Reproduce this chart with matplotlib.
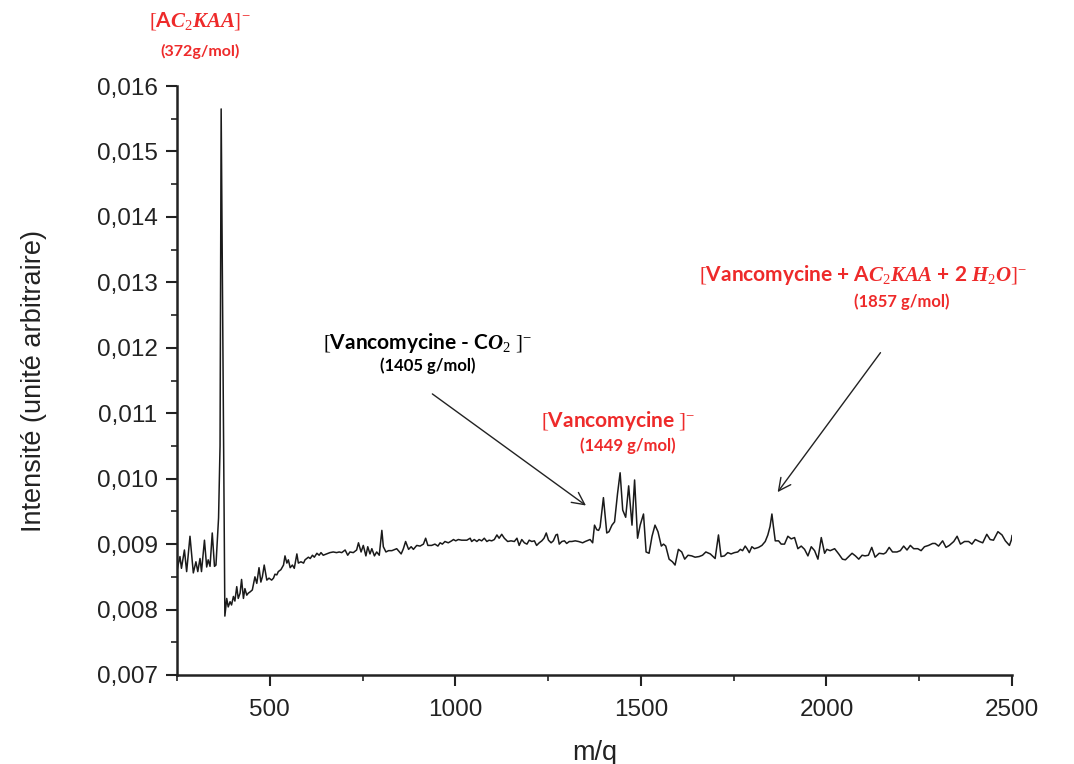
import matplotlib
matplotlib.use("Agg")
import matplotlib.pyplot as plt
from matplotlib.ticker import MultipleLocator, FuncFormatter

plt.rcParams['mathtext.fontset'] = 'custom'
plt.rcParams['mathtext.rm'] = 'Liberation Serif'
plt.rcParams['mathtext.it'] = 'Liberation Serif:italic:bold'
plt.rcParams['mathtext.bf'] = 'Liberation Serif:bold'

mz = [250, 258, 262, 270, 276, 285, 294, 301, 306, 312, 316, 324, 330, 334, 339, 345, 351, 355,
      362, 366, 369, 379,
      384, 388, 393, 397, 402, 406, 411, 415, 420, 424, 429, 433, 438, 442, 447, 453, 460, 465,
      471, 476, 480, 485, 492, 498, 505, 510, 514, 519, 523, 530, 537, 541, 546, 550, 555, 561,
      566, 573, 577, 584, 591, 595, 604, 609, 615, 620, 627, 633, 638, 644, 653, 662, 671, 680,
      687, 694, 703, 710, 716, 725, 734, 739, 746, 752, 759, 764, 770, 775, 782, 788, 795, 802,
      806, 813, 820, 829, 842, 854, 860, 866, 874, 881, 887, 896, 905, 914, 920, 926, 936, 945,
      953, 959, 965, 972, 981, 990, 995, 1001, 1008, 1017, 1031, 1040, 1044, 1051, 1058, 1064,
      1071, 1078, 1085, 1091, 1098, 1105, 1112, 1118, 1125, 1132, 1141, 1150, 1159, 1166, 1172,
      1179, 1186, 1193, 1199, 1206, 1213, 1219, 1226, 1233, 1239, 1245, 1251, 1258, 1264, 1271,
      1275, 1280, 1287, 1294, 1300, 1307, 1314, 1323, 1332, 1343, 1350, 1359, 1363, 1370, 1375,
      1381, 1386, 1390, 1399, 1408, 1414, 1422, 1429, 1437, 1444, 1451, 1459, 1467, 1476, 1483,
      1491, 1498, 1507, 1514, 1522, 1530, 1538, 1546, 1555, 1561, 1567, 1576, 1585, 1592, 1601,
      1610, 1618, 1627, 1637, 1646, 1657, 1666, 1675, 1687, 1700, 1709, 1716, 1725, 1734, 1743,
      1752, 1761, 1768, 1774, 1781, 1786, 1792, 1799, 1806, 1817, 1826, 1835, 1842, 1848, 1853,
      1857, 1862, 1871, 1878, 1887, 1896, 1905, 1914, 1923, 1932, 1941, 1950, 1959, 1968, 1977,
      1986, 1995, 2001, 2010, 2022, 2033, 2043, 2051, 2060, 2069, 2078, 2087, 2096, 2104, 2113,
      2122, 2131, 2142, 2154, 2160, 2169, 2178, 2190, 2199, 2208, 2217, 2226, 2235, 2246, 2255,
      2264, 2275, 2286, 2293, 2302, 2313, 2322, 2331, 2343, 2352, 2361, 2372, 2383, 2392, 2401,
      2412, 2421, 2432, 2441, 2450, 2462, 2473, 2482, 2493, 2498, 2500]

intensity = [0.00860, 0.00881, 0.00863, 0.00891, 0.00858, 0.00912, 0.00856, 0.00873, 0.00858,
             0.00878, 0.00858, 0.00906, 0.00865, 0.00876, 0.00866, 0.00917, 0.00866, 0.00868,
             0.00940, 0.01050, 0.01565, 0.00790,
             0.00817, 0.00804, 0.00812, 0.00807, 0.00820, 0.00813, 0.00835, 0.00817, 0.00825,
             0.00846, 0.00817, 0.00832, 0.00822, 0.00825, 0.00827, 0.00830, 0.00850, 0.00840,
             0.00864, 0.00842, 0.00850, 0.00868, 0.00845, 0.00848, 0.00845, 0.00848, 0.00854,
             0.00853, 0.00858, 0.00861, 0.00868, 0.00882, 0.00871, 0.00876, 0.00864, 0.00868,
             0.00863, 0.00885, 0.00871, 0.00873, 0.00871, 0.00876, 0.00880, 0.00878, 0.00883,
             0.00880, 0.00886, 0.00883, 0.00887, 0.00883, 0.00885, 0.00887, 0.00888, 0.00887,
             0.00888, 0.00887, 0.00891, 0.00883, 0.00888, 0.00887, 0.00891, 0.00902, 0.00888,
             0.00898, 0.00882, 0.00896, 0.00885, 0.00893, 0.00882, 0.00888, 0.00883, 0.00921,
             0.00896, 0.00888, 0.00890, 0.00890, 0.00893, 0.00885, 0.00893, 0.00904, 0.00892,
             0.00896, 0.00892, 0.00898, 0.00897, 0.00900, 0.00909, 0.00898, 0.00898, 0.00900,
             0.00897, 0.00902, 0.00900, 0.00904, 0.00902, 0.00905, 0.00907, 0.00905, 0.00907,
             0.00906, 0.00906, 0.00909, 0.00904, 0.00907, 0.00904, 0.00907, 0.00905, 0.00909,
             0.00904, 0.00906, 0.00905, 0.00907, 0.00914, 0.00909, 0.00915, 0.00909, 0.00904,
             0.00905, 0.00904, 0.00909, 0.00898, 0.00907, 0.00902, 0.00900, 0.00906, 0.00904,
             0.00905, 0.00898, 0.00902, 0.00905, 0.00909, 0.00917, 0.00906, 0.00902, 0.00905,
             0.00914, 0.00915, 0.00900, 0.00904, 0.00905, 0.00901, 0.00904, 0.00904, 0.00905,
             0.00904, 0.00902, 0.00904, 0.00906, 0.00907, 0.00902, 0.00929, 0.00922, 0.00921,
             0.00926, 0.00971, 0.00917, 0.00919, 0.00929, 0.00934, 0.00977, 0.01009, 0.00952,
             0.00941, 0.00989, 0.00929, 0.00998, 0.00909, 0.00929, 0.00946, 0.00888, 0.00886,
             0.00912, 0.00929, 0.00919, 0.00897, 0.00900, 0.00897, 0.00877, 0.00873, 0.00868,
             0.00892, 0.00888, 0.00877, 0.00883, 0.00882, 0.00880, 0.00881, 0.00883, 0.00888,
             0.00885, 0.00878, 0.00914, 0.00881, 0.00882, 0.00887, 0.00885, 0.00887, 0.00888,
             0.00892, 0.00890, 0.00897, 0.00893, 0.00887, 0.00896, 0.00893, 0.00895, 0.00898,
             0.00904, 0.00914, 0.00927, 0.00946, 0.00927, 0.00905, 0.00905, 0.00900, 0.00900,
             0.00912, 0.00908, 0.00910, 0.00893, 0.00897, 0.00892, 0.00882, 0.00896, 0.00890,
             0.00877, 0.00910, 0.00886, 0.00892, 0.00890, 0.00893, 0.00885, 0.00877, 0.00876,
             0.00881, 0.00886, 0.00882, 0.00877, 0.00883, 0.00882, 0.00883, 0.00895, 0.00880,
             0.00886, 0.00885, 0.00887, 0.00895, 0.00888, 0.00888, 0.00890, 0.00897, 0.00891,
             0.00898, 0.00893, 0.00893, 0.00890, 0.00896, 0.00898, 0.00901, 0.00901, 0.00897,
             0.00905, 0.00895, 0.00898, 0.00904, 0.00912, 0.00900, 0.00904, 0.00904, 0.00900,
             0.00907, 0.00904, 0.00902, 0.00915, 0.00907, 0.00906, 0.00919, 0.00914, 0.00905,
             0.00898, 0.00906, 0.00913]

xticks = [500, 1000, 1500, 2000, 2500]
yticks = [0.007, 0.008, 0.009, 0.010, 0.011, 0.012, 0.013, 0.014, 0.015, 0.016]

RED = '#EE2A2A'
TICKFONT = ['Liberation Sans']
ANNFONT = ['Lato', 'DejaVu Sans']

fig = plt.figure(figsize=(10.74, 7.64), dpi=100)
ax = fig.add_axes([0.1648, 0.1165, 0.7775, 0.7709])

ax.plot(mz, intensity, color='#1a1a1a', lw=1.1)

ax.set_xlim(250, 2500)
ax.set_ylim(0.007, 0.016)
ax.set_xticks(xticks)
ax.set_yticks(yticks)
ax.xaxis.set_minor_locator(MultipleLocator(250))
ax.yaxis.set_minor_locator(MultipleLocator(0.0005))
ax.yaxis.set_major_formatter(FuncFormatter(lambda v, p: f"{v:.3f}".replace('.', ',')))

for s in ['top', 'right']:
    ax.spines[s].set_visible(False)
for s in ['left', 'bottom']:
    ax.spines[s].set_linewidth(1.8)
    ax.spines[s].set_color('#222222')

ax.tick_params(which='major', direction='out', length=8, width=1.5, color='#222222', pad=6)
ax.tick_params(which='minor', direction='out', length=4.5, width=1.2, color='#222222')
for lab in ax.get_xticklabels() + ax.get_yticklabels():
    lab.set_fontfamily(TICKFONT)
    lab.set_fontsize(17.5)
    lab.set_color('#222222')
ax.tick_params(axis='x', which='major', pad=9)

ax.set_xlabel('m/q', fontsize=19.5, family=TICKFONT, color='#222222', labelpad=14)
ax.set_ylabel('Intensité (unité arbitraire)', fontsize=19.5, family=['Liberation Sans'],
              color='#222222', labelpad=36)

def label(x, y, s, color, size=12):
    ax.text(x, y, s, color=color, fontsize=size, fontweight='bold', family=ANNFONT,
            ha='center', va='center', clip_on=False)

label(312, 0.01700, r"$[$A$C_2KAA]^{-}$", RED, 15)
label(312, 0.01653, "(372g/mol)", RED, 11.5)
label(924, 0.01208, r"$[$Vancomycine - C$O_2$ $]^{-}$", 'black', 15)
label(927, 0.01172, "(1405 g/mol)", 'black', 12)
label(1439, 0.01088, r"$[$Vancomycine $]^{-}$", RED, 15)
label(1466, 0.01050, "(1449 g/mol)", RED, 12)
label(2099, 0.01311, r"$[$Vancomycine + A$C_2KAA$ + 2 $H_2O]^{-}$", RED, 15)
label(2204, 0.01271, "(1857 g/mol)", RED, 12)

arrow = dict(arrowstyle='->', lw=1.0, color='#222222', mutation_scale=22)
ax.annotate('', xy=(1358, 0.009565), xytext=(932, 0.01132), arrowprops=arrow,
            annotation_clip=False)
ax.annotate('', xy=(1864, 0.00976), xytext=(2150, 0.01196), arrowprops=arrow,
            annotation_clip=False)

fig.savefig('out.png', dpi=100)
